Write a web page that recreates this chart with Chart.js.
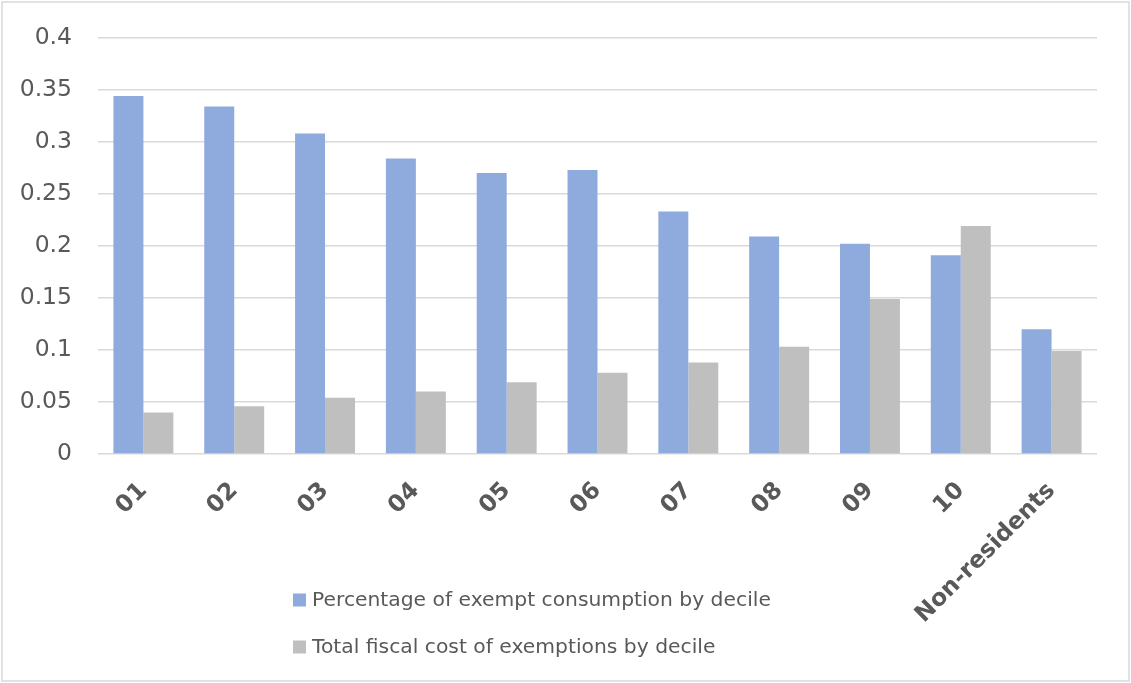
<!DOCTYPE html>
<html>
<head>
<meta charset="utf-8">
<title>Exempt consumption and fiscal cost by decile</title>
<script src="https://cdn.jsdelivr.net/npm/chart.js@4.4.1/dist/chart.umd.min.js"></script>
<style>
  html, body { margin: 0; padding: 0; background: #ffffff; }
  #wrap { position: relative; width: 1131px; height: 683px; }
</style>
</head>
<body>
<div id="wrap"><canvas id="chart" width="1131" height="683"></canvas></div>
<script>
// Deciles of household consumption plus non-residents
const categories = ['01', '02', '03', '04', '05', '06', '07', '08', '09', '10', 'Non-residents'];

// Share of consumption that is exempt, by decile
const exemptShare = [0.344, 0.334, 0.308, 0.284, 0.270, 0.273, 0.233, 0.209, 0.202, 0.191, 0.120];

// Share of the total fiscal cost of exemptions, by decile
const fiscalCostShare = [0.040, 0.046, 0.054, 0.060, 0.069, 0.078, 0.088, 0.103, 0.149, 0.219, 0.099];

const seriesNames = [
  'Percentage of exempt consumption by decile',
  'Total fiscal cost of exemptions by decile'
];

const yTickLabels = ['0', '0.05', '0.1', '0.15', '0.2', '0.25', '0.3', '0.35', '0.4'];

const TEXT = '#595959';
const FONT = "'DejaVu Sans', Verdana, sans-serif";

// White background with a thin frame around the whole figure
const framePlugin = {
  id: 'frame',
  beforeDraw(chart) {
    const ctx = chart.ctx;
    ctx.save();
    ctx.fillStyle = '#ffffff';
    ctx.fillRect(0, 0, chart.width, chart.height);
    ctx.strokeStyle = '#d9d9d9';
    ctx.lineWidth = 1.5;
    ctx.strokeRect(2, 2, chart.width - 4, chart.height - 4);
    ctx.restore();
  }
};

// Vertically stacked legend beneath the axis labels
const stackedLegend = {
  id: 'stackedLegend',
  afterDraw(chart) {
    const ctx = chart.ctx;
    const x0 = 293, rowY = [600, 647], box = 13;
    ctx.save();
    ctx.font = '20.3px ' + FONT;
    ctx.textBaseline = 'middle';
    chart.data.datasets.forEach((ds, i) => {
      const y = rowY[i];
      ctx.fillStyle = ds.backgroundColor;
      ctx.fillRect(x0, y - box / 2, box, box);
      ctx.fillStyle = TEXT;
      ctx.fillText(ds.label, x0 + 19, y + 1);
    });
    ctx.restore();
  }
};

new Chart(document.getElementById('chart'), {
  type: 'bar',
  data: {
    labels: categories,
    datasets: [
      {
        label: seriesNames[0],
        data: exemptShare,
        backgroundColor: '#8faadc',
        borderWidth: 0
      },
      {
        label: seriesNames[1],
        data: fiscalCostShare,
        backgroundColor: '#bfbfbf',
        borderWidth: 0
      }
    ]
  },
  options: {
    responsive: false,
    animation: false,
    devicePixelRatio: 1,
    layout: { padding: { top: 20, right: 34, bottom: 0, left: 0 } },
    datasets: {
      bar: { categoryPercentage: 0.66, barPercentage: 1.0 }
    },
    plugins: {
      legend: { display: false },
      tooltip: { enabled: false }
    },
    scales: {
      x: {
        grid: { display: false, drawTicks: false },
        border: { display: false },
        ticks: {
          color: TEXT,
          font: { family: FONT, size: 23.5, weight: 'bold' },
          minRotation: 45,
          maxRotation: 45,
          autoSkip: false,
          padding: 23
        },
        afterFit(scale) { scale.height = 229; }
      },
      y: {
        min: 0,
        max: 0.4,
        grid: { color: '#d9d9d9', lineWidth: 1.5, drawTicks: false },
        border: { display: false },
        ticks: {
          stepSize: 0.05,
          color: TEXT,
          font: { family: FONT, size: 23.5, lineHeight: 1 },
          padding: 26,
          callback: (value, index) => yTickLabels[index]
        },
        afterFit(scale) { scale.width = 98; }
      }
    }
  },
  plugins: [framePlugin, stackedLegend]
});
</script>
</body>
</html>
